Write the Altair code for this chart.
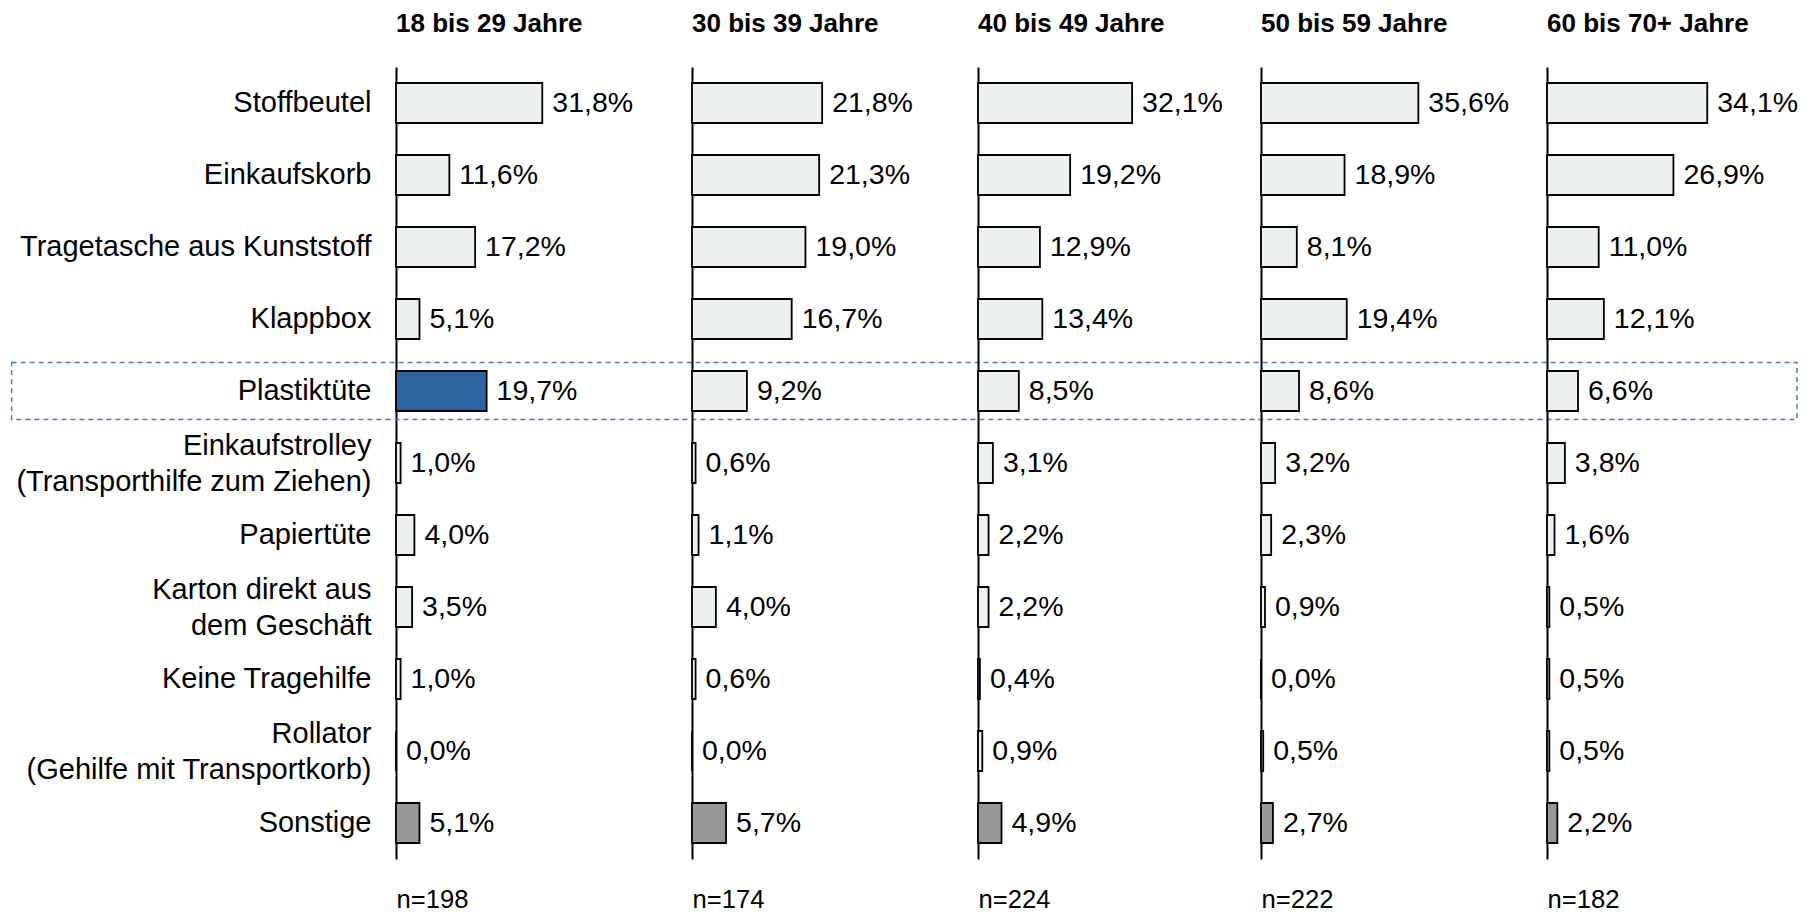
import altair as alt
import pandas as pd

categories = [
    "Stoffbeutel",
    "Einkaufskorb",
    "Tragetasche aus Kunststoff",
    "Klappbox",
    "Plastiktüte",
    "Einkaufstrolley\n(Transporthilfe zum Ziehen)",
    "Papiertüte",
    "Karton direkt aus\ndem Geschäft",
    "Keine Tragehilfe",
    "Rollator\n(Gehilfe mit Transportkorb)",
    "Sonstige",
]

groups = ["18 bis 29 Jahre", "30 bis 39 Jahre", "40 bis 49 Jahre", "50 bis 59 Jahre", "60 bis 70+ Jahre"]

v_18_29 = [31.8, 11.6, 17.2, 5.1, 19.7, 1.0, 4.0, 3.5, 1.0, 0.0, 5.1]
v_30_39 = [21.8, 21.3, 19.0, 16.7, 9.2, 0.6, 1.1, 4.0, 0.6, 0.0, 5.7]
v_40_49 = [32.1, 19.2, 12.9, 13.4, 8.5, 3.1, 2.2, 2.2, 0.4, 0.9, 4.9]
v_50_59 = [35.6, 18.9, 8.1, 19.4, 8.6, 3.2, 2.3, 0.9, 0.0, 0.5, 2.7]
v_60_70 = [34.1, 26.9, 11.0, 12.1, 6.6, 3.8, 1.6, 0.5, 0.5, 0.5, 2.2]

n_values = [198, 174, 224, 222, 182]

series = [v_18_29, v_30_39, v_40_49, v_50_59, v_60_70]

HIGHLIGHT_CAT = "Plastiktüte"
OTHER_CAT = "Sonstige"

# layout (style) settings
panel_widths = [295.3, 285.6, 282.7, 285.7, 250]
px_per_pct = [4.6, 5.97, 4.8, 4.42, 4.7]
PANEL_H = 792

FONT = "Liberation Sans"

panels = []
for i, (g, vals, n) in enumerate(zip(groups, series, n_values)):
    df = pd.DataFrame({"cat": categories, "value": vals})
    df["kind"] = [
        "hl" if (c == HIGHLIGHT_CAT and i == 0) else ("other" if c == OTHER_CAT else "normal")
        for c in categories
    ]
    W = panel_widths[i]
    dom_max = W / px_per_pct[i]

    if i == 0:
        yaxis = alt.Axis(
            title=None, ticks=False, domain=True, domainColor="black", domainWidth=2,
            labelFontSize=29, labelPadding=25, labelColor="black", labelLimit=600,
            labelExpr="split(datum.label, '\\n')", labelLineHeight=36, labelFont=FONT,
            labelOffset={"condition": {"test": "indexof(datum.value, '\\n') >= 0", "value": -17},
                         "value": 0},
        )
    else:
        yaxis = alt.Axis(title=None, ticks=False, labels=False, domain=True,
                         domainColor="black", domainWidth=2)

    y_enc = alt.Y("cat:N", sort=categories,
                  scale=alt.Scale(paddingInner=0.444, paddingOuter=0.222), axis=yaxis)
    x_enc = alt.X(
        "value:Q",
        scale=alt.Scale(domain=[0, dom_max], nice=False, zero=True),
        axis=alt.Axis(
            title=f"n={n}", domain=False, ticks=False, labels=False, grid=False,
            titleX=0, titleY=40, titleAlign="left", titleBaseline="middle",
            titleFontWeight="normal", titleFontSize=25.6, titleColor="black", titleFont=FONT,
        ),
    )

    base = alt.Chart(df)
    bars = base.mark_bar(stroke="black", strokeWidth=1.8).encode(
        y=y_enc,
        x=x_enc,
        fill=alt.Fill("kind:N",
                      scale=alt.Scale(domain=["normal", "hl", "other"],
                                      range=["#EDF0F0", "#2D65A3", "#979797"]),
                      legend=None),
    )
    labels = base.transform_calculate(
        label="replace(format(datum.value, '.1f'), '.', ',') + '%'"
    ).mark_text(align="left", baseline="middle", dx=10, fontSize=28.5, color="black",
                font=FONT).encode(y=y_enc, x=x_enc, text="label:N")

    layers = []
    if i == 0:
        box = base.transform_filter(
            alt.datum.cat == HIGHLIGHT_CAT
        ).mark_bar(filled=False, stroke="#4A7DBF", strokeWidth=1.5, strokeDash=[5, 4],
                   size=57).encode(
            y=y_enc, x=alt.value(-384.4), x2=alt.value(1401)
        )
        layers.append(box)
    layers += [bars, labels]

    panel = alt.layer(*layers).properties(
        width=W, height=PANEL_H,
        title=alt.TitleParams(text=g, anchor="start", frame="group", fontSize=26,
                              fontWeight="bold", offset=9, baseline="alphabetic",
                              color="black", font=FONT),
    )
    panels.append(panel)

chart = alt.hconcat(*panels, spacing=0, bounds="flush").properties(
    padding={"left": 2, "top": 3, "right": 0, "bottom": 0}
).configure(font=FONT).configure_view(strokeWidth=0)

chart.save("out.html", embed_options={"renderer": "svg", "actions": False})
